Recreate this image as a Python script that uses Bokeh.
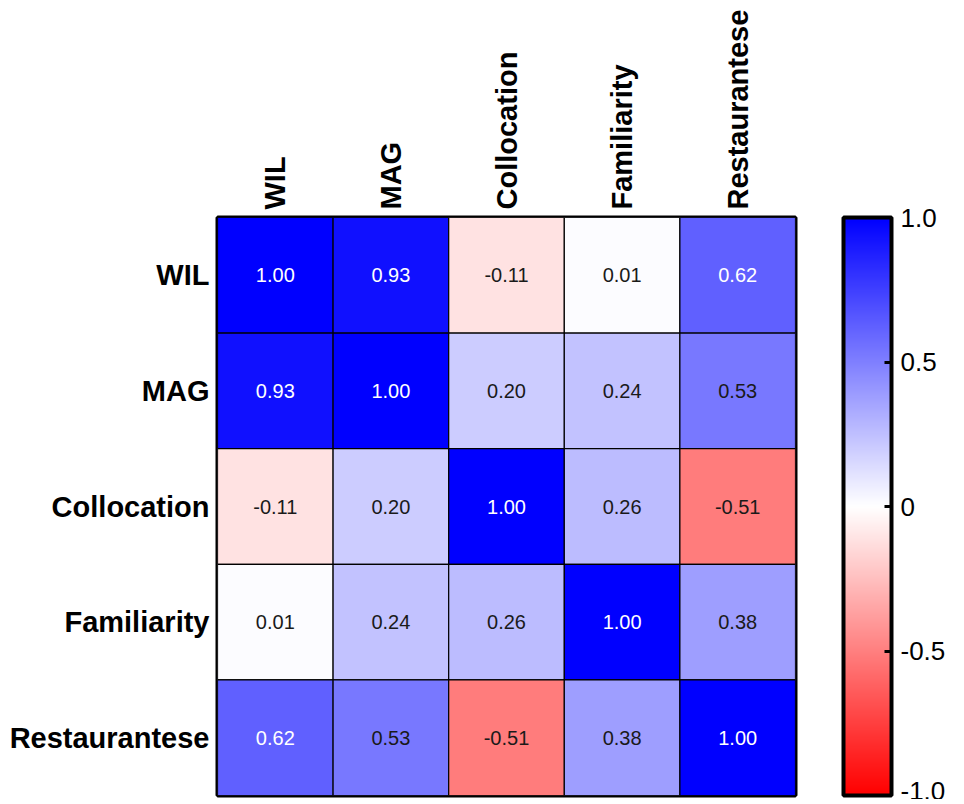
import numpy as np
from bokeh.plotting import figure
from bokeh.models import (ColumnDataSource, LinearColorMapper, ColorBar, FixedTicker,
                          CustomJSTickFormatter, FactorRange)
from bokeh.transform import transform
from bokeh.core.properties import value
from bokeh.embed import file_html
from bokeh.resources import INLINE

# ---- data ----
variables = ["WIL", "MAG", "Collocation", "Familiarity", "Restaurantese"]
row_WIL = [1.00, 0.93, -0.11, 0.01, 0.62]
row_MAG = [0.93, 1.00, 0.20, 0.24, 0.53]
row_Collocation = [-0.11, 0.20, 1.00, 0.26, -0.51]
row_Familiarity = [0.01, 0.24, 0.26, 1.00, 0.38]
row_Restaurantese = [0.62, 0.53, -0.51, 0.38, 1.00]
colorbar_ticks = [-1.0, -0.5, 0.0, 0.5, 1.0]

matrix = [row_WIL, row_MAG, row_Collocation, row_Familiarity, row_Restaurantese]

xs, ys, vals, labels, tcolors = [], [], [], [], []
for r, name in enumerate(variables):
    for c, col in enumerate(variables):
        v = matrix[r][c]
        xs.append(col)
        ys.append(name)
        vals.append(v)
        labels.append(f"{v:.2f}")
        tcolors.append("white" if v >= 0.6 else "#1a1a1a")
src = ColumnDataSource(dict(x=xs, y=ys, v=vals, label=labels, tc=tcolors))

# red -> white -> blue palette
palette = []
n = 256
for i in range(n):
    t = i / (n - 1) * 2 - 1
    if t < 0:
        f = 1 + t
        rgb = (255, int(round(255 * f)), int(round(255 * f)))
    else:
        f = 1 - t
        rgb = (int(round(255 * f)), int(round(255 * f)), 255)
    palette.append("#%02x%02x%02x" % rgb)
mapper = LinearColorMapper(palette=palette, low=-1, high=1)

FONT = "Liberation Sans"

p = figure(x_range=FactorRange(*variables), y_range=FactorRange(*reversed(variables)),
           frame_width=578, frame_height=578, x_axis_location="above",
           output_backend="svg", toolbar_location=None,
           min_border_left=217, min_border_top=217, min_border_bottom=4, min_border_right=150)

p.rect(x="x", y="y", width=1, height=1, source=src,
       fill_color=transform("v", mapper), line_color="black", line_width=1.2)
p.text(x="x", y="y", text="label", source=src, text_color="tc",
       text_align="center", text_baseline="middle",
       text_font=value(FONT), text_font_size="20px")

p.outline_line_color = "black"
p.outline_line_width = 4
p.grid.visible = False
for ax in (p.xaxis[0], p.yaxis[0]):
    ax.axis_line_color = None
    ax.major_tick_line_color = None
    ax.minor_tick_line_color = None
    ax.major_tick_out = 0
    ax.major_tick_in = 0
    ax.major_label_text_font = FONT
    ax.major_label_text_font_style = "bold"
    ax.major_label_text_font_size = "29px"
    ax.major_label_text_color = "black"
    ax.major_label_standoff = 8
p.xaxis.major_label_orientation = np.pi / 2

cb = ColorBar(color_mapper=mapper, ticker=FixedTicker(ticks=colorbar_ticks),
              formatter=CustomJSTickFormatter(code="return tick == 0 ? '0' : tick.toFixed(1);"),
              width=48, height=578, padding=0, margin=0, location=(626, 0),
              bar_line_color="black", bar_line_width=4,
              major_tick_line_color="black", major_tick_line_width=3,
              major_tick_in=7, major_tick_out=0, minor_tick_line_color=None,
              label_standoff=9,
              major_label_text_font=FONT, major_label_text_font_size="26px",
              major_label_text_color="black",
              background_fill_color=None, border_line_color=None)
p.add_layout(cb, "center")

open("out.html", "w").write(file_html(p, INLINE))
